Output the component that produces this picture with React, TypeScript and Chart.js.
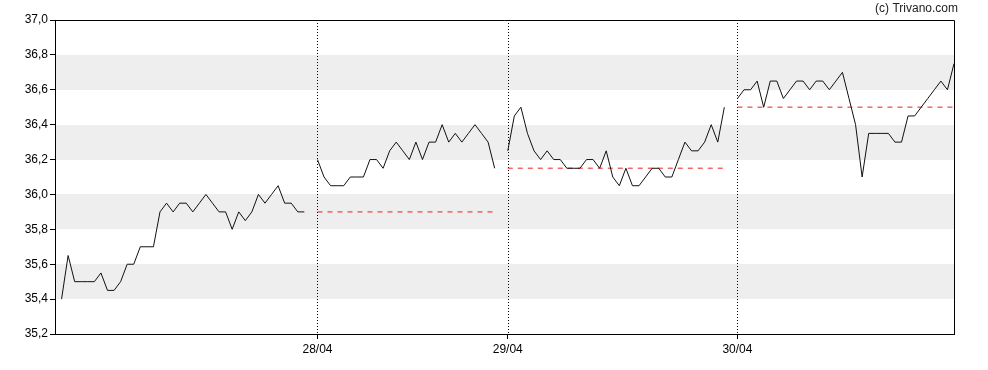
import React, { useEffect, useRef } from "react";
import { Chart, registerables } from "chart.js";

Chart.register(...registerables);

// Intraday prices per session (one value per time slot)
const day1 = [35.40, 35.65, 35.50, 35.50, 35.50, 35.50, 35.55, 35.45, 35.45, 35.50, 35.60, 35.60, 35.70, 35.70, 35.70, 35.90, 35.95, 35.90, 35.95, 35.95, 35.90, 35.95, 36.00, 35.95, 35.90, 35.90, 35.80, 35.90, 35.85, 35.90, 36.00, 35.95, 36.00, 36.05, 35.95, 35.95, 35.90, 35.90];
const day2 = [36.20, 36.10, 36.05, 36.05, 36.05, 36.10, 36.10, 36.10, 36.20, 36.20, 36.15, 36.25, 36.30, 36.25, 36.20, 36.30, 36.20, 36.30, 36.30, 36.40, 36.30, 36.35, 36.30, 36.35, 36.40, 36.35, 36.30, 36.15];
const day3 = [36.25, 36.45, 36.50, 36.35, 36.25, 36.20, 36.25, 36.20, 36.20, 36.15, 36.15, 36.15, 36.20, 36.20, 36.15, 36.25, 36.10, 36.05, 36.15, 36.05, 36.05, 36.10, 36.15, 36.15, 36.10, 36.10, 36.20, 36.30, 36.25, 36.25, 36.30, 36.40, 36.30, 36.50];
const day4 = [36.55, 36.60, 36.60, 36.65, 36.50, 36.65, 36.65, 36.55, 36.60, 36.65, 36.65, 36.60, 36.65, 36.65, 36.60, 36.65, 36.70, 36.55, 36.40, 36.10, 36.35, 36.35, 36.35, 36.35, 36.30, 36.30, 36.45, 36.45, 36.50, 36.55, 36.60, 36.65, 36.60, 36.75];

const sessions = [day1, day2, day3, day4];
// first time slot of each session on the x axis
const sessionStart = [1, 40, 69, 104];
const xMin = 0;
const xMax = 137;

// x-axis ticks (session starts) and labels
const dayTickSlots = [40, 69, 104];
const dayLabels = ["28/04", "29/04", "30/04"];

// y axis
const yMin = 35.2;
const yMax = 37.0;
const yStep = 0.2;
const bands = [[35.4, 35.6], [35.8, 36.0], [36.2, 36.4], [36.6, 36.8]];

const copyright = "(c) Trivano.com";

const decoPlugin = {
  id: "deco",
  beforeDraw(chart: any) {
    const { ctx, chartArea, scales } = chart;
    if (!chartArea) return;
    const y = scales.y;
    ctx.save();
    ctx.fillStyle = "#eeeeee";
    for (const [lo, hi] of bands) {
      const y1 = Math.round(y.getPixelForValue(hi));
      const y2 = Math.round(y.getPixelForValue(lo));
      ctx.fillRect(chartArea.left, y1, chartArea.right - chartArea.left, y2 - y1);
    }
    ctx.restore();
  },
  beforeDatasetsDraw(chart: any) {
    const { ctx, chartArea, scales } = chart;
    const x = scales.x;
    ctx.save();
    ctx.strokeStyle = "#000";
    ctx.lineWidth = 1;
    ctx.setLineDash([1, 2]);
    for (const s of dayTickSlots) {
      const px = Math.round(x.getPixelForValue(s)) + 0.5;
      ctx.beginPath();
      ctx.moveTo(px, chartArea.top);
      ctx.lineTo(px, chartArea.bottom);
      ctx.stroke();
    }
    ctx.restore();
  },
  afterDraw(chart: any) {
    const { ctx, chartArea } = chart;
    ctx.save();
    ctx.strokeStyle = "#000";
    ctx.lineWidth = 1;
    ctx.beginPath();
    const t = Math.round(chartArea.top) + 0.5;
    const r = Math.round(chartArea.right) + 0.5;
    ctx.moveTo(chartArea.left, t);
    ctx.lineTo(r, t);
    ctx.lineTo(r, chartArea.bottom);
    ctx.stroke();
    ctx.fillStyle = "#222";
    ctx.font = "12px 'Liberation Sans', Arial, sans-serif";
    ctx.textAlign = "right";
    ctx.textBaseline = "alphabetic";
    ctx.fillText(copyright, 958, 12);
    ctx.restore();
  },
};

export default function App() {
  const ref = useRef<HTMLCanvasElement | null>(null);
  useEffect(() => {
    if (!ref.current) return;
    const priceSets = sessions.map((vals, k) => ({
      data: vals.map((v, i) => ({ x: sessionStart[k] + i, y: v })),
      borderColor: "#111",
      borderWidth: 1,
      pointRadius: 0,
      tension: 0,
      fill: false,
      order: 1,
    }));
    const closeSets = sessions.slice(1).map((vals, k) => {
      const prevClose = sessions[k][sessions[k].length - 1];
      const s = sessionStart[k + 1];
      return {
        data: [
          { x: s, y: prevClose },
          { x: s + vals.length - 1, y: prevClose },
        ],
        borderColor: "rgba(240,40,40,0.7)",
        borderWidth: 1.5,
        borderDash: [5, 5],
        pointRadius: 0,
        fill: false,
        order: 2,
      };
    });
    const chart = new Chart(ref.current, {
      type: "line",
      data: { datasets: [...closeSets, ...priceSets] as any },
      options: {
        animation: false,
        responsive: false,
        maintainAspectRatio: false,
        layout: { padding: { top: 20, right: 34, left: 0, bottom: 0 } },
        plugins: { legend: { display: false }, tooltip: { enabled: false } },
        scales: {
          x: {
            type: "linear",
            min: xMin,
            max: xMax,
            afterBuildTicks: (axis: any) => {
              axis.ticks = dayTickSlots.map((v) => ({ value: v }));
            },
            afterFit: (axis: any) => {
              axis.height = 36;
            },
            ticks: {
              autoSkip: false,
              maxRotation: 0,
              padding: 3,
              color: "#000",
              font: { family: "'Liberation Sans', Arial, sans-serif", size: 12 },
              callback: (v: any) => {
                const i = dayTickSlots.indexOf(Number(v));
                return i >= 0 ? dayLabels[i] : "";
              },
            },
            grid: { drawOnChartArea: false, tickLength: 5, color: "#000", tickColor: "#000" },
            border: { display: true, color: "#000", width: 1 },
          },
          y: {
            type: "linear",
            min: yMin,
            max: yMax,
            afterFit: (axis: any) => {
              axis.width = 55;
            },
            ticks: {
              stepSize: yStep,
              padding: 2,
              color: "#000",
              font: { family: "'Liberation Sans', Arial, sans-serif", size: 12 },
              callback: (v: any) => Number(v).toFixed(1).replace(".", ","),
            },
            grid: { drawOnChartArea: false, tickLength: 5, color: "#000", tickColor: "#000" },
            border: { display: true, color: "#000", width: 1 },
          },
        },
      },
      plugins: [decoPlugin],
    });
    return () => chart.destroy();
  }, []);
  return (
    <div style={{ position: "absolute", left: 0, top: 0, width: 988, height: 370 }}>
      <canvas ref={ref} width={988} height={370} style={{ width: 988, height: 370 }} />
    </div>
  );
}
